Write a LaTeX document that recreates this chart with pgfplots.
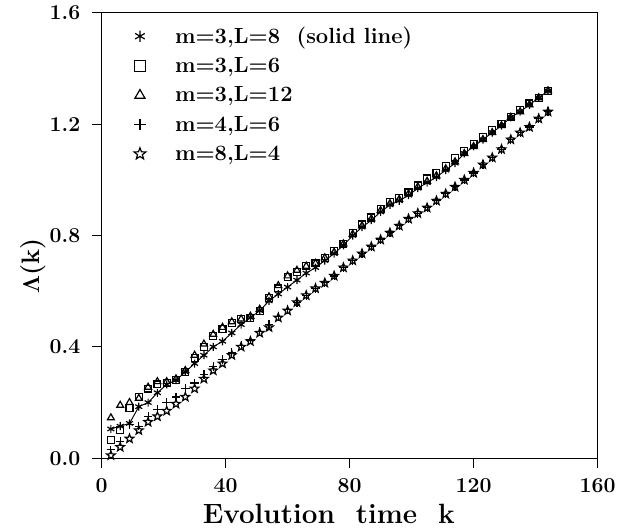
\documentclass[border=0pt]{standalone}
\usepackage[no-math]{fontspec}
\usepackage{pgfplots}
\pgfplotsset{compat=1.18}
\usepackage{pgfplotstable}

\pgfdeclareplotmark{ostar}{%
  \pgfpathmoveto{\pgfqpoint{0pt}{\pgfplotmarksize}}%
  \pgfpathlineto{\pgfqpoint{-0.247\pgfplotmarksize}{0.340\pgfplotmarksize}}%
  \pgfpathlineto{\pgfqpoint{-0.951\pgfplotmarksize}{0.309\pgfplotmarksize}}%
  \pgfpathlineto{\pgfqpoint{-0.399\pgfplotmarksize}{-0.130\pgfplotmarksize}}%
  \pgfpathlineto{\pgfqpoint{-0.588\pgfplotmarksize}{-0.809\pgfplotmarksize}}%
  \pgfpathlineto{\pgfqpoint{0pt}{-0.420\pgfplotmarksize}}%
  \pgfpathlineto{\pgfqpoint{0.588\pgfplotmarksize}{-0.809\pgfplotmarksize}}%
  \pgfpathlineto{\pgfqpoint{0.399\pgfplotmarksize}{-0.130\pgfplotmarksize}}%
  \pgfpathlineto{\pgfqpoint{0.951\pgfplotmarksize}{0.309\pgfplotmarksize}}%
  \pgfpathlineto{\pgfqpoint{0.247\pgfplotmarksize}{0.340\pgfplotmarksize}}%
  \pgfpathclose%
  \pgfusepathqstroke%
}

\pgfplotstableread{
k   A     B     C     D     E
3   0.105 0.065 0.145 0.030 0.010
6   0.115 0.100 0.190 0.060 0.040
9   0.125 0.180 0.200 0.120 0.070
12  0.185 0.220 0.215 0.115 0.100
15  0.200 0.250 0.255 0.150 0.130
18  0.235 0.265 0.275 0.175 0.150
21  0.265 0.270 0.275 0.200 0.170
24  0.280 0.280 0.285 0.220 0.195
27  0.310 0.310 0.315 0.250 0.220
30  0.340 0.360 0.370 0.270 0.250
33  0.370 0.400 0.410 0.300 0.285
36  0.400 0.440 0.445 0.330 0.315
39  0.420 0.465 0.470 0.355 0.340
42  0.450 0.485 0.490 0.380 0.370
45  0.480 0.500 0.500 0.405 0.400
48  0.505 0.505 0.510 0.425 0.420
51  0.530 0.530 0.535 0.455 0.450
54  0.565 0.575 0.580 0.480 0.470
57  0.590 0.610 0.620 0.510 0.505
60  0.615 0.650 0.655 0.535 0.530
63  0.640 0.670 0.675 0.560 0.560
66  0.665 0.690 0.690 0.585 0.585
69  0.685 0.700 0.700 0.610 0.610
72  0.710 0.720 0.720 0.630 0.630
75  0.735 0.745 0.740 0.655 0.655
78  0.765 0.770 0.770 0.685 0.685
81  0.800 0.810 0.805 0.710 0.710
84  0.830 0.840 0.835 0.735 0.735
87  0.855 0.865 0.860 0.760 0.760
90  0.885 0.895 0.890 0.785 0.785
93  0.910 0.920 0.915 0.810 0.810
96  0.925 0.935 0.930 0.835 0.835
99  0.945 0.955 0.950 0.860 0.860
102 0.970 0.980 0.975 0.880 0.880
105 0.990 1.005 0.995 0.900 0.900
108 1.010 1.025 1.015 0.925 0.925
111 1.035 1.050 1.040 0.950 0.950
114 1.060 1.080 1.065 0.975 0.975
117 1.095 1.105 1.095 1.000 1.000
120 1.120 1.130 1.120 1.025 1.025
123 1.145 1.155 1.145 1.055 1.055
126 1.170 1.180 1.170 1.080 1.080
129 1.195 1.200 1.195 1.110 1.110
132 1.225 1.225 1.225 1.145 1.145
135 1.245 1.250 1.245 1.170 1.170
138 1.270 1.275 1.270 1.190 1.190
141 1.295 1.295 1.295 1.220 1.220
144 1.320 1.320 1.320 1.245 1.245
}\datatable

\begin{document}
\begin{tikzpicture}
\begin{axis}[
  scale only axis,
  width=373.5pt, height=335.25pt,
  xmin=0, xmax=160, ymin=0, ymax=1.6,
  xtick={0,40,80,120,160},
  ytick={0,0.4,0.8,1.2,1.6},
  xticklabels={0,40,80,120,160},
  yticklabels={0.0,0.4,0.8,1.2,1.6},
  axis line style={line width=0.7pt},
  tick style={line width=0.7pt, black},
  tick align=outside,
  major tick length=7.5pt,
  xtick pos=bottom, ytick pos=left,
  ticklabel style={font=\fontsize{16}{18}\selectfont\bfseries},
  xticklabel style={yshift=-4pt},
  yticklabel style={xshift=-5pt},
  xlabel={Evolution~~time~~k},
  xlabel style={font=\fontsize{21}{24}\selectfont\bfseries, at={(axis description cs:0.458,-0.125)}, anchor=center},
  ylabel={$\mathbf{\Lambda}$(k)},
  ylabel style={font=\fontsize{19}{22}\selectfont\bfseries, at={(axis description cs:-0.1386,0.432)}, anchor=center},
  legend style={draw=none, fill=none, at={(axis description cs:0.065,0.975)}, anchor=north west,
    font=\fontsize{16.5}{19}\selectfont\bfseries, row sep=5.2pt, inner sep=0pt},
  legend cell align=left,
]
\addlegendimage{only marks, black, line width=0.9pt, mark=asterisk, mark size=4.2pt}
\addlegendentry{\kern20pt m=3,L=8~~(solid~line)}
\addlegendimage{only marks, black, line width=0.9pt, mark=square, mark size=4pt}
\addlegendentry{\kern20pt m=3,L=6}
\addlegendimage{only marks, black, line width=0.9pt, mark=triangle, mark size=4.4pt}
\addlegendentry{\kern20pt m=3,L=12}
\addlegendimage{only marks, black, line width=0.9pt, mark=+, mark size=4.4pt}
\addlegendentry{\kern20pt m=4,L=6}
\addlegendimage{only marks, black, line width=0.9pt, mark=ostar, mark size=4.6pt}
\addlegendentry{\kern20pt m=8,L=4}
\addplot[line width=0.7pt, black, no marks, forget plot] table[x=k,y=A]{\datatable};
\addplot[only marks, black, line width=0.9pt, mark=asterisk, mark size=3pt, forget plot] table[x=k,y=A]{\datatable};
\addplot[only marks, black, line width=0.9pt, mark=square, mark size=2.6pt, forget plot] table[x=k,y=B]{\datatable};
\addplot[only marks, black, line width=0.9pt, mark=triangle, mark size=3pt, forget plot] table[x=k,y=C]{\datatable};
\addplot[only marks, black, line width=0.9pt, mark=+, mark size=3.2pt, forget plot] table[x=k,y=D]{\datatable};
\addplot[only marks, black, line width=0.9pt, mark=ostar, mark size=3.4pt, forget plot] table[x=k,y=E]{\datatable};
\end{axis}
\path (current axis.south west) ++(-76.5pt,-50.25pt) rectangle ++(465pt,395.25pt);
\end{tikzpicture}
\end{document}
